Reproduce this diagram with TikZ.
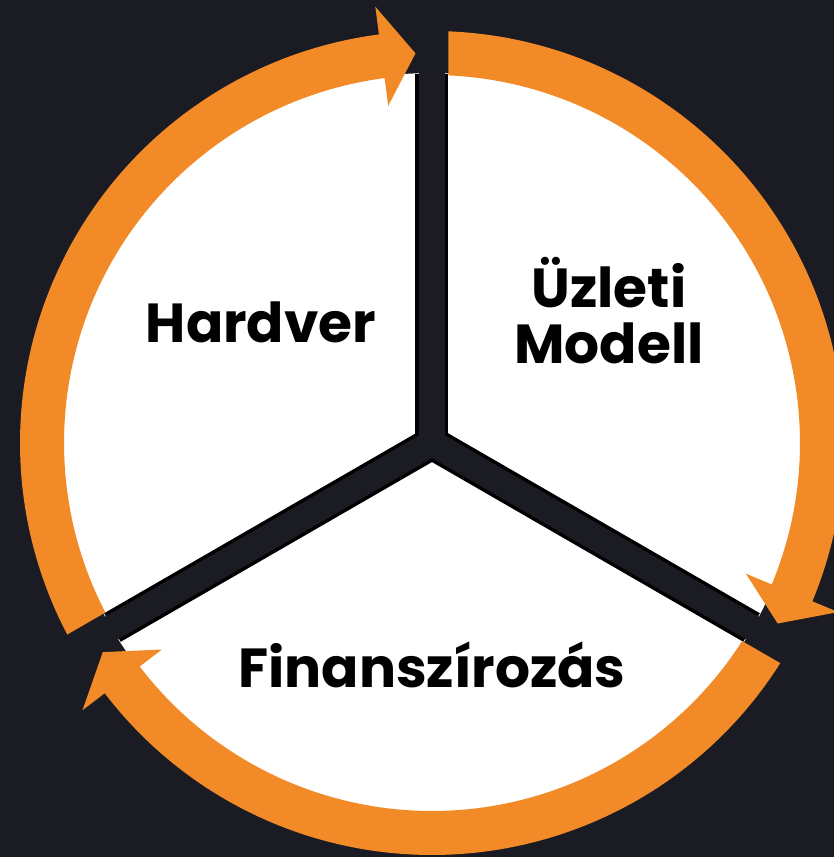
\documentclass[tikz,border=0pt]{standalone}
\usepackage{fontspec}
\setmainfont{Poppins}
\definecolor{bgdark}{HTML}{1B1C23}
\definecolor{ringorange}{HTML}{F28A27}
\tikzset{
  label/.style={text=black, inner sep=0pt, font=\fontsize{55}{56}\selectfont\bfseries},
  gap/.style={line width=33pt, black},
  gapcore/.style={line width=26pt, bgdark},
  cyclearrow/.style={fill=ringorange}
}
\begin{document}
\begin{tikzpicture}[x=1pt, y=1pt]
      \fill[bgdark] (-432,-414) rectangle (402,443);
      \useasboundingbox (-432,-414) rectangle (402,443);
      \coordinate (c) at (0,0);
      \fill[white] (c) circle (370);
      % the three gaps between the parts
      \draw[gap] (c) -- (90:369);
      \draw[gap] (c) -- (210:369);
      \draw[gap] (c) -- (330:369);
      \draw[gapcore] (c) -- (90:380);
      \draw[gapcore] (c) -- (210:380);
      \draw[gapcore] (c) -- (330:380);
      % orange arrows, clockwise
      \fill[cyclearrow] (87.705:412) arc[start angle=87.705, end angle=-22.6, radius=412]
        -- (-22.6:440) -- (-27.575:390) -- (-22.6:340) -- (-22.6:368)
        arc[start angle=-22.6, end angle=87.43, radius=368] -- cycle;
      \fill[cyclearrow] (-32.295:412) arc[start angle=-32.295, end angle=-142.6, radius=412]
        -- (-142.6:440) -- (-147.575:390) -- (-142.6:340) -- (-142.6:368)
        arc[start angle=-142.6, end angle=-32.57, radius=368] -- cycle;
      \fill[cyclearrow] (207.705:412) arc[start angle=207.705, end angle=97.4, radius=412]
        -- (97.4:440) -- (92.425:390) -- (97.4:340) -- (97.4:368)
        arc[start angle=97.4, end angle=207.43, radius=368] -- cycle;
      % labels
      \node[label, anchor=base] (hardver) at (-171,100) {Hardver};
      \node[label, anchor=base, align=center] (uzleti) at (177,80) {Üzleti\\Modell};
      \node[label, anchor=base] (finansz) at (0,-244) {Finanszírozás};
    \end{tikzpicture}
\end{document}
